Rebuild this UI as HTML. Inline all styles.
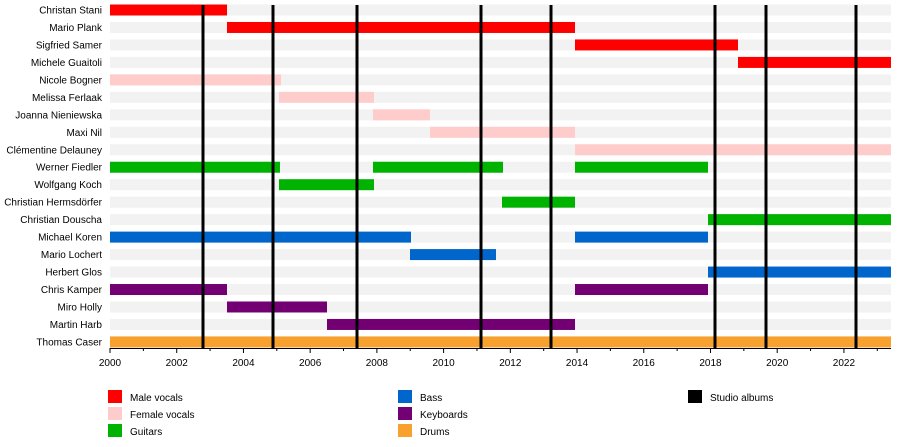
<!DOCTYPE html>
<html><head><meta charset="utf-8"><style>
html,body{margin:0;padding:0;background:#fff;}
svg{display:block;font-family:"Liberation Sans",sans-serif;}
</style></head><body>
<svg width="900" height="447" viewBox="0 0 900 447" xmlns="http://www.w3.org/2000/svg">
<g id="stripes" fill="#f2f2f2"></g>
<g id="bars"></g>
<g id="labels" font-size="10" fill="#000" text-anchor="end"></g>
<g id="albums" fill="#000"></g>
<g id="axis"></g>
<g font-size="10">
<rect x="108" y="390" width="14" height="13" fill="#ff0000"/><text x="130" y="401">Male vocals</text>
<rect x="108" y="407" width="14" height="13" fill="#ffcccc"/><text x="130" y="418">Female vocals</text>
<rect x="108" y="424" width="14" height="13" fill="#00b300"/><text x="130" y="435">Guitars</text>
<rect x="398" y="390" width="14" height="13" fill="#0066cc"/><text x="420" y="401">Bass</text>
<rect x="398" y="407" width="14" height="13" fill="#730073"/><text x="420" y="418">Keyboards</text>
<rect x="398" y="424" width="14" height="13" fill="#f9a12e"/><text x="420" y="435">Drums</text>
<rect x="688" y="390" width="14" height="13" fill="#000"/><text x="710" y="401">Studio albums</text>
</g>
</svg>
<script>
const ns="http://www.w3.org/2000/svg";
function el(p,t,a,txt){const e=document.createElementNS(ns,t);for(const k in a)e.setAttribute(k,a[k]);if(txt)e.textContent=txt;document.getElementById(p).appendChild(e);}
const R="#ff0000",P="#ffcccc",G="#00b300",B="#0066cc",K="#730073",O="#f9a12e";
const rows=[
["Christan Stani",[[110,227,R]]],
["Mario Plank",[[227,575,R]]],
["Sigfried Samer",[[575,738,R]]],
["Michele Guaitoli",[[738,891,R]]],
["Nicole Bogner",[[110,281,P]]],
["Melissa Ferlaak",[[279,374,P]]],
["Joanna Nieniewska",[[373,430,P]]],
["Maxi Nil",[[430,575,P]]],
["Clémentine Delauney",[[575,891,P]]],
["Werner Fiedler",[[110,280,G],[373,503,G],[575,708,G]]],
["Wolfgang Koch",[[279,374,G]]],
["Christian Hermsdörfer",[[502,575,G]]],
["Christian Douscha",[[708,891,G]]],
["Michael Koren",[[110,411,B],[575,708,B]]],
["Mario Lochert",[[410,496,B]]],
["Herbert Glos",[[708,891,B]]],
["Chris Kamper",[[110,227,K],[575,708,K]]],
["Miro Holly",[[227,327,K]]],
["Martin Harb",[[327,575,K]]],
["Thomas Caser",[[110,891,O]]]];
rows.forEach((r,i)=>{const c=10+i*17.47;
el("stripes","rect",{x:110,y:c-5.5,width:781,height:11});
r[1].forEach(b=>el("bars","rect",{x:b[0],y:c-5.5,width:b[1]-b[0],height:11,fill:b[2]}));
el("labels","text",{x:102,y:c+3.5},r[0]);});
[203,273,357,481,551,715,766,856].forEach(x=>el("albums","rect",{x:x-1.5,y:5,width:3,height:343}));
el("axis","rect",{x:110,y:348,width:781,height:1,fill:"#000"});
for(let y=2000;y<=2023;y++){const x=110+(y-2000)*33.36;
el("axis","rect",{x:x-0.5,y:348,width:1,height:y%2==0?5:3,fill:"#000"});
if(y%2==0)el("axis","text",{x:x,y:366,"font-size":"10","text-anchor":"middle"},String(y));}
</script>
</body></html>
